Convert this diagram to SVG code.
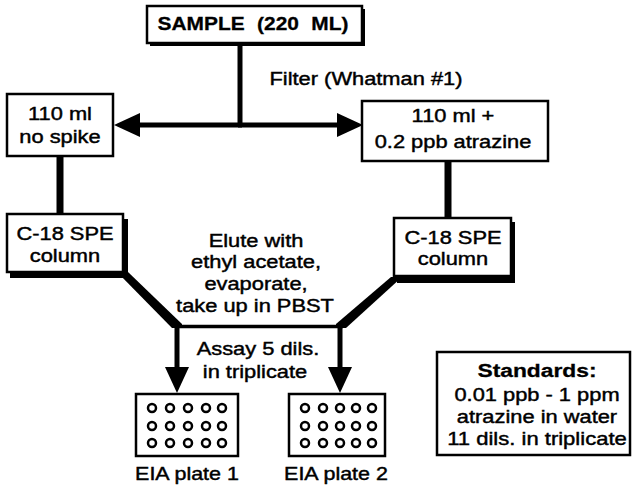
<svg xmlns="http://www.w3.org/2000/svg" width="632" height="489" viewBox="0 0 632 489">
<style>
.t{font-family:"Liberation Sans",Arial,Helvetica,sans-serif;font-size:19px;text-anchor:middle;fill:#000;stroke:#000;stroke-width:0.45}
.b{font-weight:bold;stroke-width:0.3}
.box{fill:#fff;stroke:#000;stroke-width:2.5}
.sh{fill:#000}
.ln{stroke:#000;fill:none;stroke-linecap:butt}
.w{fill:none;stroke:#000;stroke-width:2.5}
</style>
<defs>
<marker id="ah" viewBox="0 0 26 24" markerWidth="26" markerHeight="24" refX="0" refY="12" orient="auto" markerUnits="userSpaceOnUse">
<path d="M0,0 L26,12 L0,24 Z" fill="#000"/>
</marker>
</defs>
<rect width="632" height="489" fill="#fff"/>

<g id="connectors">
<line class="ln" x1="240" y1="43" x2="240" y2="125" stroke-width="5"/>
<line class="ln" x1="242" y1="125" x2="140" y2="125" stroke-width="5" marker-end="url(#ah)"/>
<line class="ln" x1="238" y1="125" x2="337" y2="125" stroke-width="5" marker-end="url(#ah)"/>
<line class="ln" x1="60" y1="156" x2="60" y2="214" stroke-width="7"/>
<line class="ln" x1="448" y1="161" x2="448" y2="218" stroke-width="7"/>
<polygon points="117,272 128,272 182,324 182,328 172,328" fill="#000"/>
<polygon points="391,277 402,277 346,328 336,328 336,324" fill="#000"/>
<line class="ln" x1="175" y1="326.5" x2="343" y2="326.5" stroke-width="3.5"/>
<line class="ln" x1="177" y1="326" x2="177" y2="367" stroke-width="5" marker-end="url(#ah)"/>
<line class="ln" x1="340" y1="326" x2="340" y2="367" stroke-width="5" marker-end="url(#ah)"/>
</g>

<g id="sample">
<rect class="sh" x="150" y="9" width="215" height="37"/>
<rect class="box" x="147" y="6" width="215" height="37"/>
<text class="t b" font-size="20" word-spacing="6" transform="translate(253 30) scale(1.1 1)">SAMPLE (220 ML)</text>
</g>

<g id="filter-label">
<text class="t" transform="translate(366 85) scale(1.15 1)">Filter (Whatman #1)</text>
</g>

<g id="no-spike">
<rect class="box" x="7" y="94" width="106" height="62"/>
<text class="t" transform="translate(60 120) scale(1.15 1)">110 ml</text>
<text class="t" transform="translate(60 143) scale(1.15 1)">no spike</text>
</g>

<g id="spiked">
<rect class="box" x="362" y="101" width="186" height="60"/>
<text class="t" transform="translate(453 122) scale(1.15 1)">110 ml +</text>
<text class="t" transform="translate(453 148) scale(1.15 1)">0.2 ppb atrazine</text>
</g>

<g id="spe-left">
<rect class="sh" x="10" y="219" width="118" height="59"/>
<rect class="box" x="7" y="214" width="116" height="58"/>
<text class="t" transform="translate(65 240) scale(1.15 1)">C-18 SPE</text>
<text class="t" transform="translate(65 262) scale(1.15 1)">column</text>
</g>

<g id="spe-right">
<rect class="sh" x="397" y="222" width="118" height="61"/>
<rect class="box" x="394" y="218" width="117" height="58"/>
<text class="t" transform="translate(453 244) scale(1.15 1)">C-18 SPE</text>
<text class="t" transform="translate(453 265) scale(1.15 1)">column</text>
</g>

<g id="elute-label">
<text class="t" transform="translate(256 247) scale(1.15 1)">Elute with</text>
<text class="t" transform="translate(256 268) scale(1.15 1)">ethyl acetate,</text>
<text class="t" transform="translate(256 290) scale(1.15 1)">evaporate,</text>
<text class="t" transform="translate(255 312) scale(1.15 1)">take up in PBST</text>
</g>

<g id="assay-label">
<text class="t" transform="translate(258 355) scale(1.15 1)">Assay 5 dils.</text>
<text class="t" transform="translate(255 378) scale(1.15 1)">in triplicate</text>
</g>

<g id="plate1">
<rect class="box" x="136" y="394" width="102" height="62"/>
<g class="w">
<circle cx="152" cy="408" r="4"/><circle cx="170" cy="408" r="4"/><circle cx="188" cy="408" r="4"/><circle cx="206" cy="408" r="4"/><circle cx="222" cy="408" r="4"/>
<circle cx="152" cy="426" r="4"/><circle cx="170" cy="426" r="4"/><circle cx="188" cy="426" r="4"/><circle cx="206" cy="426" r="4"/><circle cx="222" cy="426" r="4"/>
<circle cx="152" cy="443" r="4"/><circle cx="170" cy="443" r="4"/><circle cx="188" cy="443" r="4"/><circle cx="206" cy="443" r="4"/><circle cx="222" cy="443" r="4"/>
</g>
<text class="t" transform="translate(187 480) scale(1.13 1)">EIA plate 1</text>
</g>

<g id="plate2">
<rect class="box" x="289" y="394" width="96" height="62"/>
<g class="w">
<circle cx="305" cy="408" r="4"/><circle cx="323" cy="408" r="4"/><circle cx="340" cy="408" r="4"/><circle cx="356" cy="408" r="4"/><circle cx="372" cy="408" r="4"/>
<circle cx="305" cy="426" r="4"/><circle cx="323" cy="426" r="4"/><circle cx="340" cy="426" r="4"/><circle cx="356" cy="426" r="4"/><circle cx="372" cy="426" r="4"/>
<circle cx="305" cy="443" r="4"/><circle cx="323" cy="443" r="4"/><circle cx="340" cy="443" r="4"/><circle cx="356" cy="443" r="4"/><circle cx="372" cy="443" r="4"/>
</g>
<text class="t" transform="translate(336 480) scale(1.13 1)">EIA plate 2</text>
</g>

<g id="standards">
<rect class="box" x="437" y="352" width="193" height="103"/>
<text class="t b" transform="translate(537 377) scale(1.2 1)">Standards:</text>
<text class="t" transform="translate(537 401) scale(1.15 1)">0.01 ppb - 1 ppm</text>
<text class="t" transform="translate(537 423) scale(1.15 1)">atrazine in water</text>
<text class="t" transform="translate(537 445) scale(1.16 1)">11 dils. in triplicate</text>
</g>
</svg>
